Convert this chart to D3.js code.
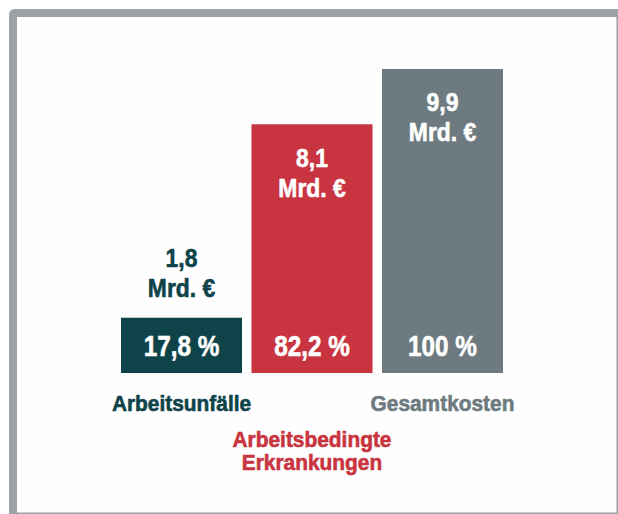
<!DOCTYPE html>
<html>
<head>
<meta charset="utf-8">
<script src="https://cdn.jsdelivr.net/npm/d3@7"></script>
<style>
  html, body { margin: 0; padding: 0; background: #ffffff; }
  svg { display: block; }
  text { font-family: "Liberation Sans", Arial, sans-serif; font-weight: bold; }
</style>
</head>
<body>
<svg id="chart" width="618" height="514"></svg>
<script>
// ---- data ----
const categories = ["Arbeitsunfälle", "Arbeitsbedingte Erkrankungen", "Gesamtkosten"];
const categoryLines = [["Arbeitsunfälle"], ["Arbeitsbedingte", "Erkrankungen"], ["Gesamtkosten"]];
const valuesMrd = [1.8, 8.1, 9.9];          // Mrd. €
const sharePercent = [17.8, 82.2, 100];     // %
const unitLabel = "Mrd. €";
const colors = ["#0e434a", "#c8343f", "#6d7b80"];

// ---- layout ----
const svg = d3.select("#chart");

// frame
const frameColor = "#9ba1a4";
svg.append("path")
  .attr("d", "M9,15 Q9,9 15,9 L618,9 L618,514 L9,514 Z")
  .attr("fill", frameColor);
svg.append("rect")
  .attr("x", 17).attr("y", 17)
  .attr("width", 599.5).attr("height", 495.5)
  .attr("fill", "#fefefe");

const locale = d3.formatLocale({ decimal: ",", thousands: ".", grouping: [3], currency: ["", " €"] });
const fmtVal = locale.format(".1f");
const fmtPct = locale.format(".1~f");

const x = d3.scaleBand()
  .domain(categories)
  .range([121, 503])
  .paddingInner(0.0728)
  .paddingOuter(0);

const y = d3.scaleLinear()
  .domain([0, d3.max(valuesMrd)])
  .range([373, 69]);

const data = categories.map((c, i) => ({
  cat: c, lines: categoryLines[i], value: valuesMrd[i], share: sharePercent[i], color: colors[i], i
}));

// condensed text helper
function condensedText(parent, cx, sx, color) {
  return parent.append("g")
    .attr("transform", `translate(${cx},0) scale(${sx},1)`)
    .append("text")
    .attr("text-anchor", "middle")
    .attr("fill", color)
    .attr("stroke", color)
    .attr("stroke-width", 0.6)
    .attr("stroke-linejoin", "round");
}

// bars
svg.append("g").selectAll("rect")
  .data(data)
  .join("rect")
  .attr("x", d => x(d.cat))
  .attr("y", d => y(d.value))
  .attr("width", x.bandwidth())
  .attr("height", d => y(0) - y(d.value))
  .attr("fill", d => d.color);

// value labels (inside if bar tall enough, otherwise above)
const valG = svg.append("g");
data.forEach(d => {
  const h = y(0) - y(d.value);
  const inside = h > 120;
  const top = y(d.value);
  const b1 = inside ? top + 42.5 : top - 51;
  const cx = x(d.cat) + x.bandwidth() / 2;
  const t = condensedText(valG, cx, 0.88, inside ? "#ffffff" : d.color)
    .attr("font-size", 26);
  t.append("tspan").attr("x", 0).attr("y", b1).text(fmtVal(d.value));
  t.append("tspan").attr("x", 0).attr("y", b1 + 30).text(unitLabel);
});

// percent labels at bar bottoms
const pctG = svg.append("g");
data.forEach(d => {
  condensedText(pctG, x(d.cat) + x.bandwidth() / 2, 0.81, "#ffffff")
    .attr("y", y(0) - 16.5)
    .attr("font-size", 30)
    .text(fmtPct(d.share) + " %");
});

// category labels (staggered)
const catG = svg.append("g");
data.forEach(d => {
  const base = d.i % 2 === 0 ? y(0) + 38 : y(0) + 74;
  const t = condensedText(catG, x(d.cat) + x.bandwidth() / 2, 0.95, d.color)
    .attr("font-size", 22);
  d.lines.forEach((ln, k) => {
    t.append("tspan")
      .attr("x", 0)
      .attr("y", base + k * 23.5)
      .text(ln);
  });
});
</script>
</body>
</html>
